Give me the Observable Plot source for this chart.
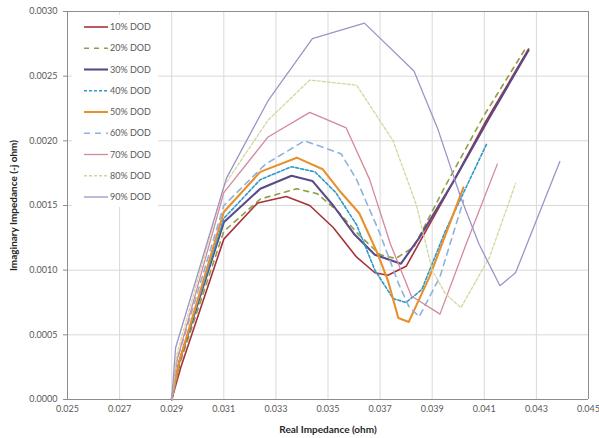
<!DOCTYPE html>
<html>
<head>
<meta charset="utf-8">
<script src="https://cdn.jsdelivr.net/npm/d3@7"></script>
<script src="https://cdn.jsdelivr.net/npm/@observablehq/plot@0.6"></script>
<style>
  body { margin: 0; background: #fff; }
  #wrap { position: relative; width: 599px; height: 438px; font-family: Lato, "Open Sans", sans-serif; }
  #wrap svg g[aria-label="x-axis label"] text,
  #wrap svg g[aria-label="y-axis label"] text { font-weight: bold; fill: #262626; font-size: 10px; }
  #legend { position: absolute; left: 72px; top: 15px; background: #fff; }
</style>
</head>
<body>
<div id="wrap"></div>
<script>
// Data: [real impedance (ohm), imaginary impedance (-j ohm)]
const dod10 = [[0.0290,0],[0.02935,0.00025],[0.0310,0.00124],[0.0323,0.00152],[0.0334,0.00157],[0.0343,0.0015],[0.0352,0.00133],[0.0361,0.0011],[0.0368,0.00098],[0.0373,0.00096],[0.0380,0.00103],[0.0395,0.00157],[0.0410,0.00213],[0.0427,0.00271]];
const dod20 = [[0.0290,0],[0.02935,0.0003],[0.0310,0.0013],[0.0324,0.00155],[0.0338,0.00163],[0.0346,0.00159],[0.0354,0.00145],[0.0362,0.00127],[0.0370,0.00112],[0.0376,0.00109],[0.0383,0.00118],[0.0395,0.00165],[0.0410,0.0022],[0.0426,0.00272]];
const dod30 = [[0.0290,0],[0.0293,0.0003],[0.0310,0.00137],[0.0324,0.00163],[0.0336,0.00173],[0.0344,0.00169],[0.0352,0.0015],[0.0360,0.00128],[0.0368,0.00112],[0.0378,0.00105],[0.0385,0.00125],[0.0398,0.00168],[0.0412,0.00218],[0.0427,0.0027]];
const dod40 = [[0.0290,0],[0.0293,0.0003],[0.0310,0.0014],[0.0324,0.0017],[0.0336,0.0018],[0.0345,0.00176],[0.0353,0.0016],[0.0361,0.00135],[0.0368,0.001],[0.0375,0.00078],[0.0380,0.00075],[0.0386,0.00085],[0.0395,0.0013],[0.0411,0.00198]];
const dod50 = [[0.0290,0],[0.0293,0.0003],[0.0310,0.00145],[0.0324,0.00176],[0.0338,0.00187],[0.0348,0.00178],[0.0355,0.0016],[0.0362,0.00144],[0.0369,0.00113],[0.0373,0.00092],[0.0377,0.00063],[0.0381,0.0006],[0.0389,0.00095],[0.0402,0.00164]];
const dod60 = [[0.0290,0],[0.0292,0.0003],[0.0310,0.0015],[0.0326,0.00182],[0.0341,0.002],[0.0355,0.0019],[0.0361,0.0017],[0.0370,0.00128],[0.0377,0.0009],[0.0381,0.00072],[0.0385,0.00064],[0.0393,0.00095],[0.0402,0.00154]];
const dod70 = [[0.0290,0],[0.0292,0.0003],[0.0310,0.0016],[0.0327,0.00203],[0.0343,0.00222],[0.0357,0.0021],[0.0366,0.0017],[0.0374,0.0012],[0.0382,0.0008],[0.0393,0.00066],[0.0403,0.0012],[0.0415,0.00182]];
const dod80 = [[0.0290,0],[0.0292,0.00035],[0.0310,0.00165],[0.0327,0.00216],[0.0343,0.00247],[0.0361,0.00243],[0.0375,0.002],[0.0384,0.0015],[0.0390,0.001],[0.0395,0.00082],[0.0401,0.00071],[0.0412,0.0011],[0.0422,0.00167]];
const dod90 = [[0.0290,0],[0.02915,0.0004],[0.0311,0.00171],[0.0327,0.00231],[0.0344,0.00279],[0.0364,0.00291],[0.0383,0.00254],[0.0392,0.0021],[0.0401,0.00156],[0.0408,0.0012],[0.0416,0.00088],[0.0422,0.00098],[0.0439,0.00184]];

const seriesNames = ["10% DOD","20% DOD","30% DOD","40% DOD","50% DOD","60% DOD","70% DOD","80% DOD","90% DOD"];
const seriesData = [dod10, dod20, dod30, dod40, dod50, dod60, dod70, dod80, dod90];
const xTicks = [0.025,0.027,0.029,0.031,0.033,0.035,0.037,0.039,0.041,0.043,0.045];
const yTicks = [0,0.0005,0.0010,0.0015,0.0020,0.0025,0.0030];

// styles
const colors = ["#A8323A","#8E9F45","#5A4A8A","#2E9AC6","#E8902C","#8DB3DD","#D4899B","#D2D69C","#9D94C6"];
const widths = [1.6,1.6,2.1,1.6,2.1,1.6,1.3,1.3,1.3];
const dashes = [null,"5,5",null,"3,2",null,"6,5",null,"3,2",null];

const lineMarks = seriesData.map((d, i) => Plot.line(d, {
  x: p => p[0], y: p => p[1],
  stroke: colors[i], strokeWidth: widths[i],
  strokeDasharray: dashes[i] || undefined,
  strokeLinejoin: "round"
}));

const axisColor = "#8c8c8c";
const chart = Plot.plot({
  width: 599, height: 438,
  marginLeft: 67, marginRight: 11, marginTop: 11, marginBottom: 39,
  style: { fontFamily: "Lato, 'Open Sans', sans-serif", fontSize: "9px", color: "#595959", background: "#fff" },
  x: { domain: [0.025, 0.045] },
  y: { domain: [0, 0.003] },
  marks: [
    Plot.gridX(xTicks, { stroke: "#d9d9d9", strokeOpacity: 1 }),
    Plot.gridY(yTicks, { stroke: "#d9d9d9", strokeOpacity: 1 }),
    Plot.ruleY([0.003], { stroke: axisColor }),
    Plot.ruleX([0.045], { stroke: axisColor }),
    Plot.ruleX([0.025], { stroke: axisColor }),
    Plot.ruleY([0], { stroke: axisColor }),
    Plot.axisX(xTicks, { tickSize: 0, tickPadding: 6, tickFormat: d => d.toFixed(3),
      label: "Real Impedance (ohm)", labelAnchor: "center", labelOffset: 33, labelArrow: "none", fill: "#595959" }),
    Plot.axisY(yTicks, { tickSize: 4, tickPadding: 6, stroke: axisColor, tickFormat: d => d.toFixed(4),
      label: "Imaginary Impedance (-j ohm)", labelAnchor: "center", labelOffset: 58, labelArrow: "none", fill: "#595959" }),
    ...lineMarks
  ]
});
document.getElementById("wrap").appendChild(chart);

// Legend overlay (inside plot, top-left)
const lw = 86, lh = 192;
const leg = d3.select("#wrap").append("svg").attr("id", "legend").attr("width", lw).attr("height", lh);
seriesNames.forEach((name, i) => {
  const cy = 12 + i * 21.25;
  leg.append("line").attr("x1", 12).attr("x2", 36).attr("y1", cy).attr("y2", cy)
    .attr("stroke", colors[i]).attr("stroke-width", widths[i])
    .attr("stroke-dasharray", dashes[i]);
  leg.append("text").attr("x", 38).attr("y", cy).attr("dy", "0.35em")
    .attr("font-size", 9).attr("fill", "#595959")
    .attr("font-family", "Lato, 'Open Sans', sans-serif").text(name);
});
</script>
</body>
</html>
